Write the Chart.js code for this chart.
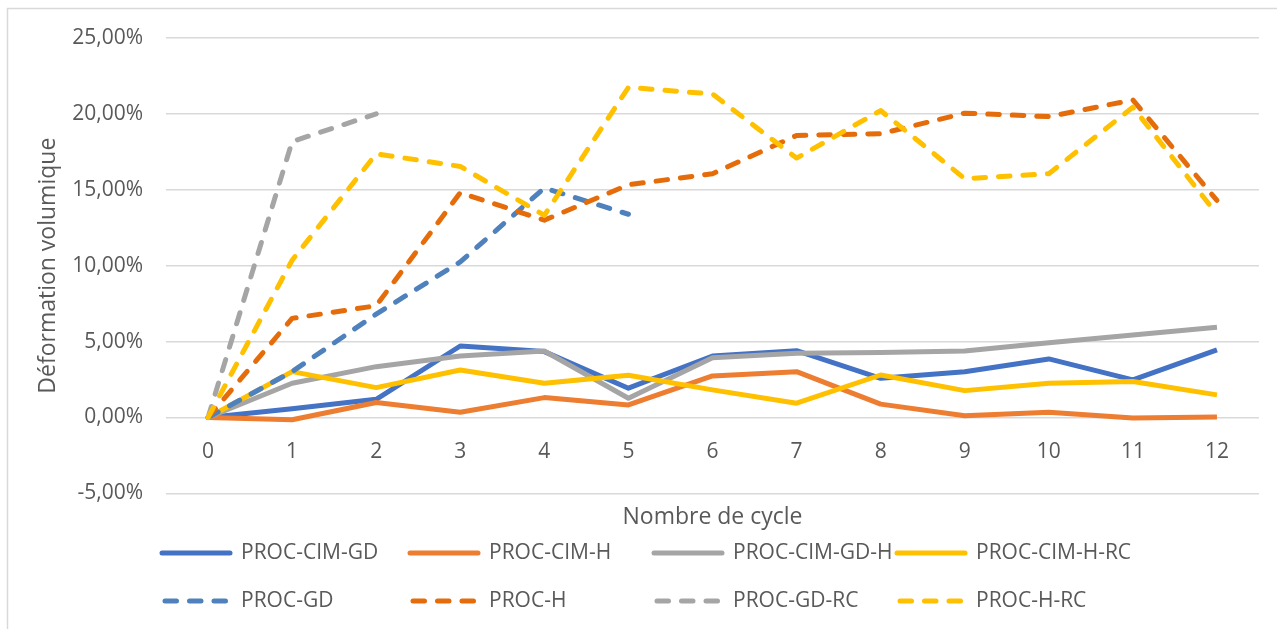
<!DOCTYPE html>
<html lang="fr">
<head>
<meta charset="utf-8">
<title>Déformation volumique</title>
<script src="https://cdn.jsdelivr.net/npm/chart.js@4.4.1/dist/chart.umd.min.js"></script>
<style>
  html, body { margin: 0; padding: 0; background: #ffffff; }
  #wrap { width: 1277px; height: 629px; }
</style>
</head>
<body>
<div id="wrap"><canvas id="chart" width="1277" height="629"></canvas></div>
<script>
// Cycles and volumetric strain (%) per specimen
const cycles = ['0', '1', '2', '3', '4', '5', '6', '7', '8', '9', '10', '11', '12'];

const procCimGD   = [0, 0.57, 1.20, 4.71, 4.34, 1.93, 4.05, 4.40, 2.58, 3.02, 3.86, 2.48, 4.45];
const procCimH    = [0, -0.15, 0.99, 0.35, 1.31, 0.83, 2.74, 3.02, 0.88, 0.11, 0.35, -0.04, 0.04];
const procCimGDH  = [0, 2.26, 3.35, 4.05, 4.38, 1.27, 3.94, 4.23, 4.29, 4.38, 4.93, 5.43, 5.94];
const procCimHRC  = [0, 3.02, 1.97, 3.13, 2.26, 2.78, 1.82, 0.94, 2.80, 1.77, 2.26, 2.37, 1.49];
const procGD      = [0, 3.02, 6.81, 10.25, 15.12, 13.39, null, null, null, null, null, null, null];
const procH       = [0, 6.53, 7.36, 14.81, 13.00, 15.33, 16.06, 18.58, 18.69, 20.05, 19.82, 20.92, 14.30];
const procGDRC    = [0, 18.18, 20.00, null, null, null, null, null, null, null, null, null, null];
const procHRC     = [0, 10.36, 17.37, 16.54, 13.32, 21.75, 21.31, 17.09, 20.22, 15.73, 16.06, 20.44, 13.39];

const seriesNames = ['PROC-CIM-GD', 'PROC-CIM-H', 'PROC-CIM-GD-H', 'PROC-CIM-H-RC',
                     'PROC-GD', 'PROC-H', 'PROC-GD-RC', 'PROC-H-RC'];
const seriesData = [procCimGD, procCimH, procCimGDH, procCimHRC, procGD, procH, procGDRC, procHRC];
const seriesColors = ['#4472C4', '#ED7D31', '#A5A5A5', '#FFC000',
                      '#4F81BD', '#E46C0A', '#A5A5A5', '#FFC000'];
const seriesDashed = [false, false, false, false, true, true, true, true];

const yTicks = [-5, 0, 5, 10, 15, 20, 25];

const FONT = '"Open Sans", "Noto Sans", sans-serif';
const TEXT = '#595959';
const DASH = [11.5, 13];
const LINE_W = 5;

const datasets = seriesNames.map((name, i) => ({
  label: name,
  data: seriesData[i],
  borderColor: seriesColors[i],
  backgroundColor: seriesColors[i],
  borderWidth: LINE_W,
  borderDash: seriesDashed[i] ? DASH : [],
  borderCapStyle: seriesDashed[i] ? 'round' : 'butt',
  borderJoinStyle: 'round',
  pointRadius: 0,
  pointHoverRadius: 0,
  tension: 0,
  fill: false,
  spanGaps: false,
  order: seriesNames.length - 1 - i
}));

// white background and light frame
const framePlugin = {
  id: 'frame',
  beforeDraw(chart) {
    const ctx = chart.ctx;
    ctx.save();
    ctx.fillStyle = '#ffffff';
    ctx.fillRect(0, 0, chart.width, chart.height);
    ctx.strokeStyle = '#D9D9D9';
    ctx.lineWidth = 1.5;
    ctx.strokeRect(7.5, 8.5, chart.width + 20, chart.height + 20);
    ctx.restore();
  }
};

// four-column legend below the axis title
const gridLegendPlugin = {
  id: 'gridLegend',
  afterDraw(chart) {
    const ctx = chart.ctx;
    const colX = [160, 408, 652, 895];
    const rowY = [553, 601];
    const sampleLen = 72;
    ctx.save();
    chart.data.datasets.forEach((ds, i) => {
      const x = colX[i % 4];
      const y = rowY[Math.floor(i / 4)];
      ctx.beginPath();
      ctx.strokeStyle = ds.borderColor;
      ctx.lineWidth = LINE_W;
      ctx.lineCap = 'round';
      if (ds.borderDash.length) {
        ctx.setLineDash(ds.borderDash);
        ctx.moveTo(x + 5, y);
        ctx.lineTo(x + sampleLen - 5, y);
      } else {
        ctx.setLineDash([]);
        ctx.moveTo(x + 2, y);
        ctx.lineTo(x + sampleLen - 2, y);
      }
      ctx.stroke();
      ctx.setLineDash([]);
      ctx.fillStyle = TEXT;
      ctx.font = '21px ' + FONT;
      ctx.textBaseline = 'middle';
      ctx.textAlign = 'left';
      ctx.fillText(ds.label, x + 81, y);
    });
    ctx.restore();
  }
};

new Chart(document.getElementById('chart'), {
  type: 'line',
  data: { labels: cycles, datasets },
  plugins: [framePlugin, gridLegendPlugin],
  options: {
    responsive: false,
    animation: false,
    devicePixelRatio: 1,
    layout: { padding: { left: 0, right: 18, top: 38, bottom: 98 } },
    plugins: {
      legend: { display: false },
      tooltip: { enabled: false },
      title: { display: false }
    },
    scales: {
      x: {
        type: 'category',
        position: { y: 0 },
        offset: true,
        grid: { display: false, drawTicks: false },
        border: { display: false },
        ticks: {
          color: TEXT,
          font: { family: FONT, size: 21 },
          padding: 22,
          maxRotation: 0,
          autoSkip: false
        }
      },
      xTitle: {
        type: 'category',
        position: 'bottom',
        offset: true,
        grid: { display: false, drawTicks: false },
        border: { display: false },
        ticks: { display: false },
        title: {
          display: true,
          text: 'Nombre de cycle',
          color: TEXT,
          font: { family: FONT, size: 23 },
          padding: { top: 10, bottom: 0 }
        }
      },
      y: {
        type: 'linear',
        min: -5,
        max: 25,
        afterBuildTicks(scale) {
          scale.ticks = yTicks.map(v => ({ value: v }));
        },
        afterFit(scale) { scale.width = 166; },
        grid: { color: '#D9D9D9', lineWidth: 1.5, drawTicks: false },
        border: { display: false },
        ticks: {
          color: TEXT,
          font: { family: FONT, size: 21 },
          padding: 23,
          callback: v => v.toFixed(2).replace('.', ',') + '%'
        },
        title: {
          display: true,
          text: 'Déformation volumique',
          color: TEXT,
          font: { family: FONT, size: 23 },
          padding: { top: 35, bottom: 0 }
        }
      }
    }
  }
});
</script>
</body>
</html>
